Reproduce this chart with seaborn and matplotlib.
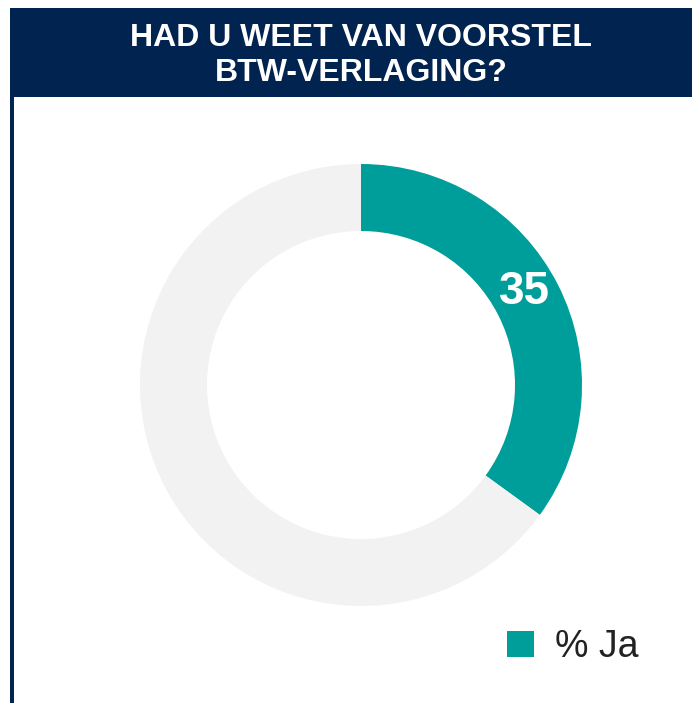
import matplotlib
matplotlib.use("Agg")
import matplotlib.pyplot as plt
from matplotlib.patches import Rectangle, Patch
import seaborn as sns
import numpy as np

# Data
categories = ["% Ja", "Overig"]
values = [35, 65]
title_lines = ["HAD U WEET VAN VOORSTEL", "BTW-VERLAGING?"]

TEAL = "#009e9a"
GREY = "#f2f2f2"
NAVY = "#00234f"

sns.set_theme(style="white")
plt.rcParams['font.family'] = ['Liberation Sans', 'DejaVu Sans']

W, H = 692, 703
fig = plt.figure(figsize=(W / 100, H / 100), dpi=100)
ax = fig.add_axes([0, 0, 1, 1])
ax.set_xlim(0, W)
ax.set_ylim(0, H)
ax.set_aspect('equal')
ax.axis('off')

# Banner and left border
ax.add_patch(Rectangle((10, H - 97), W - 10, 89, facecolor=NAVY, edgecolor='none', zorder=1))
ax.add_patch(Rectangle((10, 0), 4, H - 97, facecolor=NAVY, edgecolor='none', zorder=1))
ax.text(361, H - 38, title_lines[0], ha='center', va='center', color='white',
        fontsize=23, fontweight='bold', zorder=2)
ax.text(361, H - 73, title_lines[1], ha='center', va='center', color='white',
        fontsize=23, fontweight='bold', zorder=2)

# Donut
wedges, _ = ax.pie(values, colors=[TEAL, GREY], startangle=90, counterclock=False,
                   center=(361, H - 385), radius=221,
                   wedgeprops=dict(width=67, edgecolor='none'))
ax.set_xlim(0, W)
ax.set_ylim(0, H)

# Value label on teal wedge
frac = values[0] / sum(values)
ang = np.deg2rad(90 - frac * 360 / 2 + 3)
r = 189
ax.text(361 + r * np.cos(ang), H - 385 + r * np.sin(ang) - 1, str(values[0]),
        ha='center', va='center', color='white', fontsize=33, fontweight='bold', zorder=3)

# Legend
handle = Patch(facecolor=TEAL, edgecolor='none', label=categories[0])
fig.legend(handles=[handle], loc='center left', bbox_to_anchor=(507 / W, 1 - 647 / H),
           frameon=False, fontsize=27, handlelength=0.72, handleheight=0.72,
           handletextpad=0.55, borderpad=0, borderaxespad=0, labelcolor='#222222')

fig.savefig("out.png", dpi=100, facecolor='white')
